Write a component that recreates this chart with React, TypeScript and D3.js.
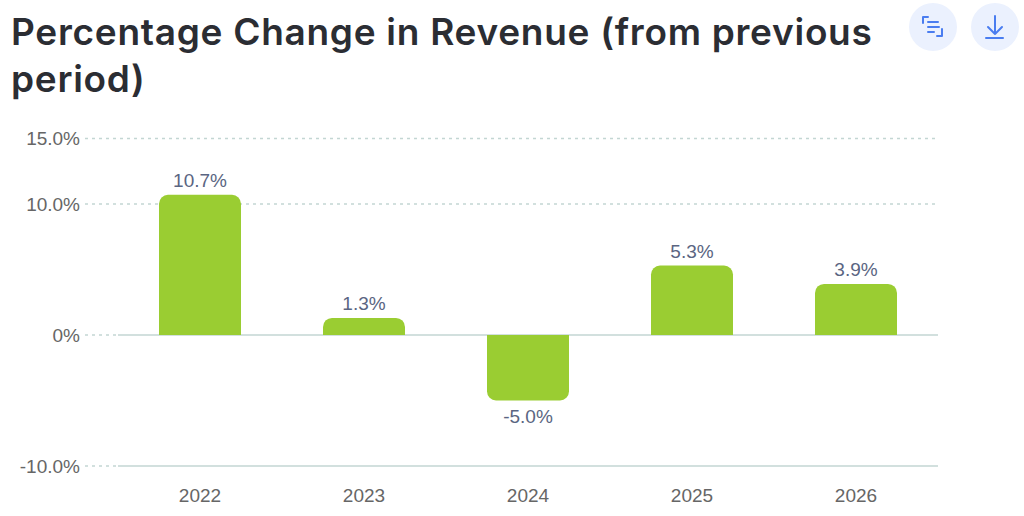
import { scaleBand, scaleLinear } from "d3";

const years = ["2022", "2023", "2024", "2025", "2026"];
const changes = [10.7, 1.3, -5.0, 5.3, 3.9];
const barLabels = ["10.7%", "1.3%", "-5.0%", "5.3%", "3.9%"];
const yTicks = [15, 10, 0, -10];
const yTickLabels = ["15.0%", "10.0%", "0%", "-10.0%"];
const titleLines = ["Percentage Change in Revenue (from previous", "period)"];

const W = 1024, H = 516;
const LEFT = 118, RIGHT = 938, Y0 = 335, PX_PER_PCT = 13.1;
const GREEN = "#9acd32", GRID = "#c3d6d3", TICK = "#666666";
const R = 9;

function barPath(x: number, w: number, y0: number, y1: number) {
  const s = y1 < y0 ? 1 : -1; // up or down from the baseline
  const r = Math.min(R, Math.abs(y1 - y0));
  const sweep = s > 0 ? 1 : 0;
  return `M${x},${y0}V${y1 + s * r}A${r},${r} 0 0 ${sweep} ${x + r},${y1}H${x + w - r}A${r},${r} 0 0 ${sweep} ${x + w},${y1 + s * r}V${y0}Z`;
}

export default function App() {
  const scaleX = scaleBand().domain(years).range([LEFT, RIGHT]).paddingInner(0.5).paddingOuter(0.25);
  const scaleY = scaleLinear().domain([-10, 15]).range([Y0 + 10 * PX_PER_PCT, Y0 - 15 * PX_PER_PCT]);
  const bw = scaleX.bandwidth();
  return (
    <svg width={W} height={H} viewBox={`0 0 ${W} ${H}`}
      style={{ position: "absolute", left: 0, top: 0, background: "#fff" }}>
      {titleLines.map((t, i) => (
        <text key={t} x={11} y={45 + i * 47} fontFamily="Inter, 'Noto Sans', sans-serif" fontSize={37}
          letterSpacing={0.72} fontWeight={600} fill="#2b2d33">{t}</text>
      ))}

      {/* header buttons */}
      <circle cx={933} cy={27} r={24} fill="#ebf1fe" />
      <circle cx={995} cy={27} r={24} fill="#ebf1fe" />
      <g fill="none" stroke="#4a7df0" strokeWidth={2} strokeLinecap="round" strokeLinejoin="round">
        <path d="M928,17H923V23" />
        <path d="M928,22H938M928,27H939M928,32H934" />
        <path d="M942,29V36H937" />
        <path d="M995,16V34M988,27L995,34L1002,27" />
        <path d="M986,38H1003" />
      </g>

      {yTicks.map((t, i) => (
        <g key={t}>
          <line x1={85} x2={t === 0 || t === -10 ? LEFT : RIGHT} y1={scaleY(t)} y2={scaleY(t)}
            stroke={GRID} strokeWidth={1.3} strokeDasharray="3 4" />
          {(t === 0 || t === -10) && (
            <line x1={LEFT} x2={RIGHT} y1={scaleY(t)} y2={scaleY(t)} stroke={GRID} strokeWidth={1.5} />
          )}
          <text x={80} y={scaleY(t)} dy="0.35em" textAnchor="end"
            fontFamily="'Liberation Sans', sans-serif" fontSize={19} fill={TICK}>{yTickLabels[i]}</text>
        </g>
      ))}

      {years.map((yr, i) => {
        const x = scaleX(yr) ?? 0;
        const v = changes[i];
        const yv = scaleY(v);
        return (
          <g key={yr}>
            <path d={barPath(x, bw, scaleY(0), yv)} fill={GREEN} />
            <text x={x + bw / 2} y={v >= 0 ? yv - 8 : yv + 22} textAnchor="middle"
              fontFamily="'Liberation Sans', sans-serif" fontSize={19} fill="#5a6582">{barLabels[i]}</text>
            <text x={x + bw / 2} y={502} textAnchor="middle"
              fontFamily="'Liberation Sans', sans-serif" fontSize={19} fill={TICK}>{yr}</text>
          </g>
        );
      })}
    </svg>
  );
}
